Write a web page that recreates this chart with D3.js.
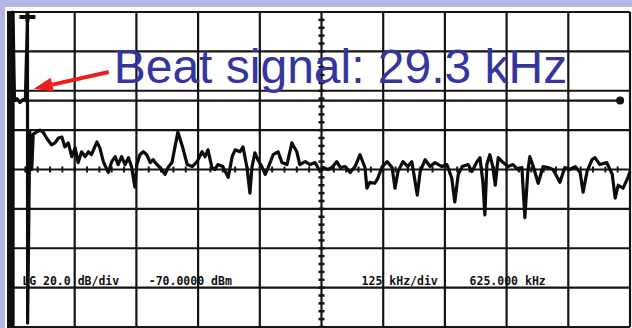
<!DOCTYPE html>
<html>
<head>
<meta charset="utf-8">
<script src="https://cdn.jsdelivr.net/npm/d3@7"></script>
<style>
body { margin: 0; background: #fff; }
svg { display: block; }
</style>
</head>
<body>
<div id="chart"></div>
<script>

// spectrum analyzer settings
var startKHz = 0, spanKHz = 1250, kHzPerDiv = 125;
var refLevel = -70, dBPerDiv = 20, numDivY = 8;

// sweep trace (kHz, dBm)
var sweepKHz = [0, 0, 3, 8, 14, 20, 25, 29.3, 29.6, 34, 38, 41, 55, 61, 68, 78, 85, 92, 99, 105,
    112, 119, 126, 132, 139, 146, 153, 159, 170, 176, 183, 193, 200, 207, 213, 220, 227, 234, 240, 247,
    251, 257, 264, 271, 278, 284, 288, 298, 308, 314, 322, 334, 344, 353, 363, 373, 383, 389, 395, 403,
    409, 415, 425, 436, 444, 450, 460, 466, 474, 480, 484, 490, 496, 504, 511, 517, 527, 537, 545, 555,
    565, 575, 581, 592, 602, 612, 622, 628, 638, 646, 656, 663, 673, 683, 693, 703, 713, 717, 723, 733,
    739, 748, 758, 768, 774, 780, 790, 800, 808, 819, 825, 835, 845, 855, 869, 879, 889, 895, 902, 910,
    922, 930, 940, 946, 952, 956, 960, 966, 972, 977, 983, 993, 1003, 1013, 1023, 1031, 1037, 1043, 1047, 1054,
    1064, 1074, 1084, 1094, 1108, 1118, 1128, 1139, 1149, 1155, 1163, 1173, 1179, 1189, 1203, 1214, 1220, 1226, 1236, 1246,
    1250];
var sweepDBm = [-230, -70, -115, -114, -116, -114.5, -115, -72.5, -228, -131, -150, -132, -130, -131, -134, -137.5, -136.5, -134, -133.5, -138.5,
    -136.5, -143.5, -139, -146.5, -141, -143.5, -141, -142.5, -136, -139, -146, -151.5, -146, -143.5, -147.5, -143.5, -147.5, -144, -148.5, -159,
    -147.5, -142.5, -141, -142.5, -146.5, -145, -146.5, -149, -152.5, -149, -146.5, -131, -139, -147.5, -148.5, -146, -141, -143.5, -140, -149,
    -150, -147.5, -148.5, -154, -143.5, -140, -141, -138.5, -149, -162, -149, -141.5, -145, -148.5, -152.5, -149, -142.5, -141, -146.5, -147.5,
    -136.5, -141, -147.5, -146, -147.5, -146.5, -151, -149, -150, -149, -146, -149, -148.5, -151.5, -148.5, -142.5, -149, -159.5, -156.5, -157,
    -154.5, -148.5, -146, -149, -159.5, -151, -146, -148.5, -146, -163, -151, -145, -148.5, -146.5, -148.5, -147.5, -154.5, -166.5, -152.5, -148.5,
    -147.5, -151, -146, -144, -156.5, -173, -147.5, -142.5, -148.5, -158, -144, -146.5, -148.5, -147.5, -150, -149, -174.5, -151, -143.5, -148.5,
    -157, -148.5, -149, -150, -156.5, -149, -150, -148.5, -151.5, -161.5, -151, -145, -144, -147.5, -146.5, -152.5, -164.5, -158, -159.5, -154,
    -151];

// display line and marker
var displayLine = { level: -115, from: 4, to: 1230 };
var marker = { freq: 29.3, level: -72.5 };

// on-screen readouts
var readoutText = ["LG 20.0 dB/div", "-70.0000 dBm", "125 kHz/div", "625.000 kHz"];
var readoutDiv = [0.15, 2.2, 5.65, 7.4];
var readoutLevel = -208.5;

// slide annotation
var noteText = "Beat signal: 29.3 kHz";
var noteAt = [204, -106];
var arrowTail = [194, -100.5];
var arrowTip = [42, -109];

var width = 632, height = 328;
var svg = d3.select("#chart").append("svg")
    .attr("width", width)
    .attr("height", height);

svg.append("rect").attr("width", width).attr("height", height).attr("fill", "#b4b7e6");
svg.append("rect").attr("x", 5).attr("y", 7).attr("width", width - 5).attr("height", height - 7).attr("fill", "#fff");

var x = d3.scaleLinear().domain([startKHz, startKHz + spanKHz]).range([13, 630]);
var y = d3.scaleLinear().domain([refLevel - dBPerDiv * numDivY, refLevel]).range([327, 12]);

var grid = svg.append("g").attr("stroke", "#141414").attr("stroke-width", 2.2);

grid.selectAll("line.v")
    .data(d3.range(startKHz, startKHz + spanKHz + 1, kHzPerDiv))
    .enter().append("line")
    .attr("class", "v")
    .attr("x1", function (d) { return x(d); })
    .attr("x2", function (d) { return x(d); })
    .attr("y1", y(refLevel))
    .attr("y2", y(refLevel - dBPerDiv * numDivY));

grid.selectAll("line.h")
    .data(d3.range(refLevel - dBPerDiv * numDivY, refLevel + 1, dBPerDiv))
    .enter().append("line")
    .attr("class", "h")
    .attr("y1", function (d) { return y(d); })
    .attr("y2", function (d) { return y(d); })
    .attr("x1", x(startKHz) - 6)
    .attr("x2", x(startKHz + spanKHz));

// minor ticks on the centre lines
var centreF = startKHz + spanKHz / 2, centreL = refLevel - dBPerDiv * numDivY / 2;
grid.selectAll("line.ty")
    .data(d3.range(refLevel - dBPerDiv * numDivY, refLevel, dBPerDiv / 5))
    .enter().append("line")
    .attr("class", "ty")
    .attr("stroke-width", 2.5)
    .attr("x1", x(centreF) - 3).attr("x2", x(centreF) + 3)
    .attr("y1", function (d) { return y(d); })
    .attr("y2", function (d) { return y(d); });

grid.selectAll("line.tx")
    .data(d3.range(startKHz, startKHz + spanKHz, kHzPerDiv / 5))
    .enter().append("line")
    .attr("class", "tx")
    .attr("stroke-width", 2)
    .attr("y1", y(centreL) - 3).attr("y2", y(centreL) + 3)
    .attr("x1", function (d) { return x(d); })
    .attr("x2", function (d) { return x(d); });

// thick left edge
svg.append("rect")
    .attr("x", x(startKHz) - 6).attr("y", y(refLevel))
    .attr("width", 6).attr("height", y(refLevel - dBPerDiv * numDivY) - y(refLevel))
    .attr("fill", "#111");

// display line
svg.append("line")
    .attr("x1", x(displayLine.from)).attr("x2", x(displayLine.to))
    .attr("y1", y(displayLine.level)).attr("y2", y(displayLine.level))
    .attr("stroke", "#141414").attr("stroke-width", 2.2);
svg.append("circle")
    .attr("cx", x(displayLine.to)).attr("cy", y(displayLine.level))
    .attr("r", 4).attr("fill", "#111");

// trace
var sweep = sweepKHz.map(function (f, i) { return [f, sweepDBm[i]]; });
var line = d3.line()
    .x(function (d) { return x(d[0]); })
    .y(function (d) { return y(d[1]); });

svg.append("path")
    .datum(sweep)
    .attr("d", line)
    .attr("fill", "none")
    .attr("stroke", "#0c0c0c")
    .attr("stroke-width", 3.2)
    .attr("stroke-linejoin", "round");

// marker symbol
var mx = x(marker.freq), my = y(marker.level);
svg.append("path")
    .attr("d", "M" + (mx - 8) + "," + my + "H" + (mx + 8) + "M" + mx + "," + (my - 5) + "V" + (my + 5))
    .attr("stroke", "#111").attr("stroke-width", 4);

// readouts
svg.append("g").selectAll("text")
    .data(readoutText)
    .enter().append("text")
    .attr("x", function (d, i) { return x(startKHz + readoutDiv[i] * kHzPerDiv); })
    .attr("y", y(readoutLevel))
    .attr("font-family", "DejaVu Sans Mono")
    .attr("font-weight", "bold")
    .attr("font-size", 11.5)
    .attr("fill", "#111")
    .text(function (d) { return d; });

// annotation arrow
var tx = x(arrowTail[0]), ty = y(arrowTail[1]);
var hx = x(arrowTip[0]), hy = y(arrowTip[1]);
var ang = Math.atan2(hy - ty, hx - tx);
var headLen = 19, headHalf = 7;
var bx = hx - headLen * Math.cos(ang), by = hy - headLen * Math.sin(ang);
svg.append("line")
    .attr("x1", tx).attr("y1", ty).attr("x2", bx).attr("y2", by)
    .attr("stroke", "#ee1c1c").attr("stroke-width", 4);
svg.append("path")
    .attr("d", "M" + hx + "," + hy +
        "L" + (bx + headHalf * Math.sin(ang)) + "," + (by - headHalf * Math.cos(ang)) +
        "L" + (bx - headHalf * Math.sin(ang)) + "," + (by + headHalf * Math.cos(ang)) + "Z")
    .attr("fill", "#ee1c1c");

svg.append("text")
    .attr("x", x(noteAt[0])).attr("y", y(noteAt[1]))
    .attr("font-family", "Liberation Sans, Arial, sans-serif")
    .attr("font-size", 48)
    .attr("fill", "#3535a0")
    .text(noteText);

</script>
</body>
</html>
